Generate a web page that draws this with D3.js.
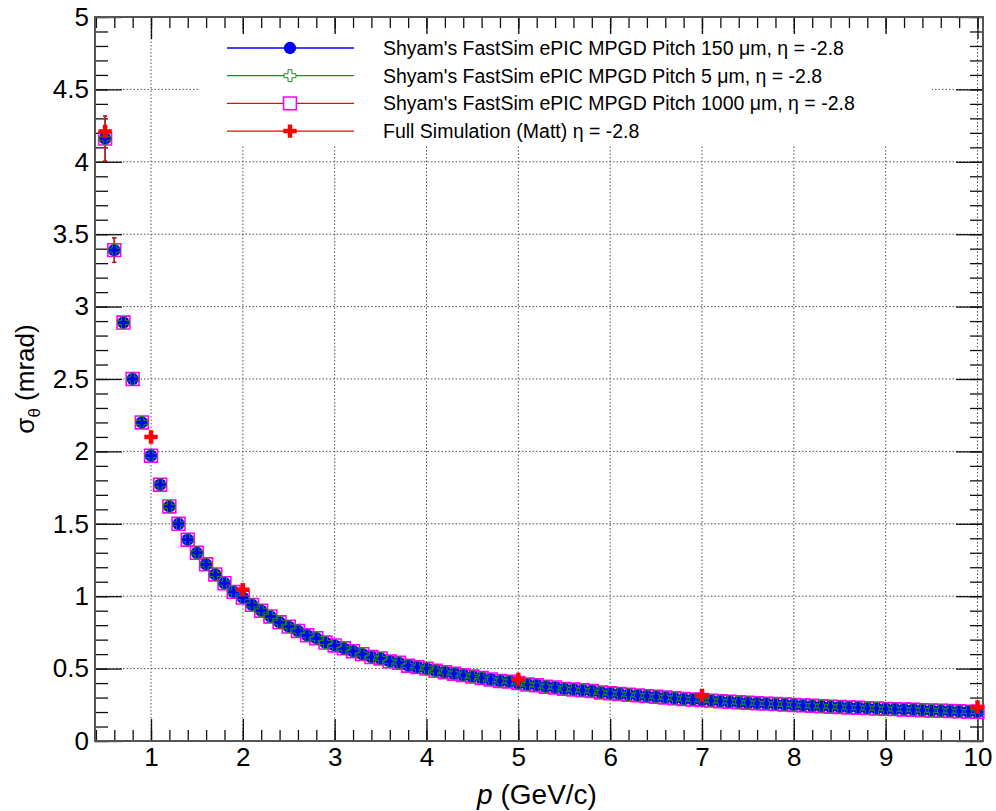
<!DOCTYPE html>
<html>
<head>
<meta charset="utf-8">
<script src="https://cdn.jsdelivr.net/npm/d3@7"></script>
<style>
    body { margin: 0; background: #fff; }
    svg { display: block; font-family: "Liberation Sans", Arial, sans-serif; }
</style>
</head>
<body>
<svg id="chart" width="996" height="811"></svg>
<script>
// Data
const momentum = [
    0.5, 0.6, 0.7, 0.8, 0.9, 1.0, 1.1, 1.2, 1.3, 1.4,
    1.5, 1.6, 1.7, 1.8, 1.9, 2.0, 2.1, 2.2, 2.3, 2.4,
    2.5, 2.6, 2.7, 2.8, 2.9, 3.0, 3.1, 3.2, 3.3, 3.4,
    3.5, 3.6, 3.7, 3.8, 3.9, 4.0, 4.1, 4.2, 4.3, 4.4,
    4.5, 4.6, 4.7, 4.8, 4.9, 5.0, 5.1, 5.2, 5.3, 5.4,
    5.5, 5.6, 5.7, 5.8, 5.9, 6.0, 6.1, 6.2, 6.3, 6.4,
    6.5, 6.6, 6.7, 6.8, 6.9, 7.0, 7.1, 7.2, 7.3, 7.4,
    7.5, 7.6, 7.7, 7.8, 7.9, 8.0, 8.1, 8.2, 8.3, 8.4,
    8.5, 8.6, 8.7, 8.8, 8.9, 9.0, 9.1, 9.2, 9.3, 9.4,
    9.5, 9.6, 9.7, 9.8, 9.9, 10.0
];
const sigma150 = [
    4.16, 3.39, 2.89, 2.50, 2.20, 1.97, 1.77, 1.62, 1.50, 1.39,
    1.30, 1.22, 1.15, 1.09, 1.03, 0.99, 0.94, 0.90, 0.86, 0.82,
    0.79, 0.76, 0.73, 0.71, 0.68, 0.66, 0.64, 0.62, 0.60, 0.58,
    0.57, 0.55, 0.54, 0.52, 0.51, 0.50, 0.485, 0.475, 0.465, 0.455,
    0.445, 0.435, 0.425, 0.415, 0.41, 0.40, 0.39, 0.385, 0.375, 0.37,
    0.36, 0.355, 0.35, 0.345, 0.335, 0.33, 0.325, 0.32, 0.315, 0.31,
    0.305, 0.30, 0.295, 0.29, 0.287, 0.283, 0.279, 0.275, 0.271, 0.268,
    0.264, 0.261, 0.258, 0.255, 0.252, 0.249, 0.246, 0.243, 0.240, 0.237,
    0.235, 0.232, 0.230, 0.227, 0.225, 0.222, 0.220, 0.218, 0.216, 0.213,
    0.211, 0.209, 0.207, 0.205, 0.203, 0.201
];
const sigma5 = [
    4.16, 3.39, 2.89, 2.50, 2.20, 1.97, 1.77, 1.62, 1.50, 1.39,
    1.30, 1.22, 1.15, 1.09, 1.03, 0.99, 0.94, 0.90, 0.86, 0.82,
    0.79, 0.76, 0.73, 0.71, 0.68, 0.66, 0.64, 0.62, 0.60, 0.58,
    0.57, 0.55, 0.54, 0.52, 0.51, 0.50, 0.485, 0.475, 0.465, 0.455,
    0.445, 0.435, 0.425, 0.415, 0.41, 0.40, 0.39, 0.385, 0.375, 0.37,
    0.36, 0.355, 0.35, 0.345, 0.335, 0.33, 0.325, 0.32, 0.315, 0.31,
    0.305, 0.30, 0.295, 0.29, 0.287, 0.283, 0.279, 0.275, 0.271, 0.268,
    0.264, 0.261, 0.258, 0.255, 0.252, 0.249, 0.246, 0.243, 0.240, 0.237,
    0.235, 0.232, 0.230, 0.227, 0.225, 0.222, 0.220, 0.218, 0.216, 0.213,
    0.211, 0.209, 0.207, 0.205, 0.203, 0.201
];
const sigma1000 = [
    4.16, 3.39, 2.89, 2.50, 2.20, 1.97, 1.77, 1.62, 1.50, 1.39,
    1.30, 1.22, 1.15, 1.09, 1.03, 0.99, 0.94, 0.90, 0.86, 0.82,
    0.79, 0.76, 0.73, 0.71, 0.68, 0.66, 0.64, 0.62, 0.60, 0.58,
    0.57, 0.55, 0.54, 0.52, 0.51, 0.50, 0.485, 0.475, 0.465, 0.455,
    0.445, 0.435, 0.425, 0.415, 0.41, 0.40, 0.39, 0.385, 0.375, 0.37,
    0.36, 0.355, 0.35, 0.345, 0.335, 0.33, 0.325, 0.32, 0.315, 0.31,
    0.305, 0.30, 0.295, 0.29, 0.287, 0.283, 0.279, 0.275, 0.271, 0.268,
    0.264, 0.261, 0.258, 0.255, 0.252, 0.249, 0.246, 0.243, 0.240, 0.237,
    0.235, 0.232, 0.230, 0.227, 0.225, 0.222, 0.220, 0.218, 0.216, 0.213,
    0.211, 0.209, 0.207, 0.205, 0.203, 0.201
];
// error on sigma for the fast sim points (same for all pitches)
const sigmaErr = [
    0.155, 0.085, 0.040, 0.025, 0.018, 0.014, 0.012, 0.010, 0.009, 0.008,
    0.007, 0.007, 0.006, 0.006, 0.005, 0.005, 0.005, 0.005, 0.004, 0.004,
    0.004, 0.004, 0.004, 0.004, 0.003, 0.003, 0.003, 0.003, 0.003, 0.003,
    0.003, 0.003, 0.003, 0.003, 0.003, 0.003, 0.003, 0.003, 0.003, 0.003,
    0.003, 0.003, 0.003, 0.003, 0.003, 0.003, 0.003, 0.003, 0.003, 0.003,
    0.003, 0.003, 0.003, 0.003, 0.003, 0.003, 0.003, 0.003, 0.003, 0.003,
    0.003, 0.003, 0.003, 0.003, 0.003, 0.003, 0.003, 0.003, 0.003, 0.003,
    0.003, 0.003, 0.003, 0.003, 0.003, 0.003, 0.003, 0.003, 0.003, 0.003,
    0.003, 0.003, 0.003, 0.003, 0.003, 0.003, 0.003, 0.003, 0.003, 0.003,
    0.003, 0.003, 0.003, 0.003, 0.003, 0.003
];
const momentumMatt = [0.5, 1.0, 2.0, 5.0, 7.0, 10.0];
const sigmaMatt = [4.21, 2.10, 1.045, 0.425, 0.315, 0.235];

const xTicks = [1, 2, 3, 4, 5, 6, 7, 8, 9, 10];
const yTicks = [0, 0.5, 1, 1.5, 2, 2.5, 3, 3.5, 4, 4.5, 5];
const legendLabels = [
    "Shyam's FastSim ePIC MPGD Pitch 150 \u03bcm, \u03b7 = -2.8",
    "Shyam's FastSim ePIC MPGD Pitch 5 \u03bcm, \u03b7 = -2.8",
    "Shyam's FastSim ePIC MPGD Pitch 1000 \u03bcm, \u03b7 = -2.8",
    "Full Simulation (Matt) \u03b7 = -2.8"
];

// Layout
const frame = { left: 95, right: 983, top: 17, bottom: 741 };
const colorBlue = '#0000ff';
const colorGreen = '#1f8a1f';
const colorMagenta = '#ff00ff';
const colorRed = '#ff0000';

const svg = d3.select('#chart');
const x = d3.scaleLinear().domain([0.39, 10.06]).range([frame.left, frame.right]);
const y = d3.scaleLinear().domain([0, 5]).range([frame.bottom, frame.top]);

// markers
const circle = d3.symbol().type(d3.symbolCircle).size(120);
const square = d3.symbol().type(d3.symbolSquare).size(165);
const crossOpen = d3.symbol().type(d3.symbolCross).size(78);
const crossFull = d3.symbol().type(d3.symbolCross).size(100);

const series = [
    { p: momentum, s: sigma150, err: sigmaErr, line: colorBlue, marker: circle, fill: colorBlue, stroke: 'none', sw: 0 },
    { p: momentum, s: sigma5, err: sigmaErr, line: colorGreen, marker: crossOpen, fill: 'none', stroke: colorGreen, sw: 1 },
    { p: momentum, s: sigma1000, err: sigmaErr, line: colorRed, marker: square, fill: 'none', stroke: colorMagenta, sw: 1.6 },
    { p: momentumMatt, s: sigmaMatt, err: sigmaMatt.map(() => 0), line: colorRed, marker: crossFull, fill: colorRed, stroke: 'none', sw: 0 }
];

// Grid
const grid = svg.append('g')
    .attr('stroke', '#555')
    .attr('stroke-width', 1)
    .attr('stroke-dasharray', '1.5,2');
grid.selectAll('.gx').data(xTicks).enter().append('line')
    .attr('x1', d => x(d)).attr('x2', d => x(d))
    .attr('y1', frame.top).attr('y2', frame.bottom);
grid.selectAll('.gy').data(yTicks.slice(1, -1)).enter().append('line')
    .attr('y1', d => y(d)).attr('y2', d => y(d))
    .attr('x1', frame.left).attr('x2', frame.right);

// Axes (ticks pointing inside the frame, ROOT style)
function styleAxis(g) {
    g.select('.domain').remove();
    g.selectAll('line').attr('stroke', '#111').attr('stroke-width', 1.3);
    g.selectAll('text').attr('font-size', 26).attr('fill', '#000')
        .attr('font-family', '"Liberation Sans", Arial, sans-serif');
}
const fmt = d => String(d);
svg.append('g').attr('transform', `translate(0,${frame.bottom})`)
    .call(d3.axisBottom(x).tickValues(x.ticks(50)).tickSize(-11).tickFormat(''))
    .call(styleAxis);
svg.append('g').attr('transform', `translate(0,${frame.bottom})`)
    .call(d3.axisBottom(x).tickValues(xTicks).tickSize(-22).tickPadding(7).tickFormat(fmt))
    .call(styleAxis);
svg.append('g').attr('transform', `translate(0,${frame.top})`)
    .call(d3.axisTop(x).tickValues(x.ticks(50)).tickSize(-11).tickFormat(''))
    .call(styleAxis);
svg.append('g').attr('transform', `translate(0,${frame.top})`)
    .call(d3.axisTop(x).tickValues(xTicks).tickSize(-22).tickFormat(''))
    .call(styleAxis);
svg.append('g').attr('transform', `translate(${frame.left},0)`)
    .call(d3.axisLeft(y).tickValues(y.ticks(50)).tickSize(-13).tickFormat(''))
    .call(styleAxis);
svg.append('g').attr('transform', `translate(${frame.left},0)`)
    .call(d3.axisLeft(y).tickValues(yTicks).tickSize(-27).tickPadding(6).tickFormat(fmt))
    .call(styleAxis);
svg.append('g').attr('transform', `translate(${frame.right},0)`)
    .call(d3.axisRight(y).tickValues(y.ticks(50)).tickSize(-13).tickFormat(''))
    .call(styleAxis);
svg.append('g').attr('transform', `translate(${frame.right},0)`)
    .call(d3.axisRight(y).tickValues(yTicks).tickSize(-27).tickFormat(''))
    .call(styleAxis);

// Frame
svg.append('rect')
    .attr('x', frame.left).attr('y', frame.top)
    .attr('width', frame.right - frame.left).attr('height', frame.bottom - frame.top)
    .attr('fill', 'none').attr('stroke', '#555').attr('stroke-width', 2);

// Error bars
series.forEach(sr => {
    const g = svg.append('g').attr('stroke', sr.line).attr('stroke-width', 1.2);
    sr.s.forEach((v, i) => {
        const e = sr.err[i];
        if (!e) return;
        const px = x(sr.p[i]);
        g.append('line').attr('x1', px).attr('x2', px).attr('y1', y(v - e)).attr('y2', y(v + e));
        g.append('line').attr('x1', px - 2).attr('x2', px + 2).attr('y1', y(v - e)).attr('y2', y(v - e));
        g.append('line').attr('x1', px - 2).attr('x2', px + 2).attr('y1', y(v + e)).attr('y2', y(v + e));
    });
});

// Markers: squares first, then circles, crosses, full-sim on top
[2, 0, 1, 3].forEach(k => {
    const sr = series[k];
    svg.append('g').selectAll('path').data(sr.s).enter().append('path')
        .attr('d', sr.marker)
        .attr('transform', (d, i) => `translate(${x(sr.p[i])},${y(d)})`)
        .attr('fill', sr.fill)
        .attr('stroke', sr.stroke)
        .attr('stroke-width', sr.sw);
});

// Legend
const legend = svg.append('g');
legend.append('rect')
    .attr('x', 199).attr('y', 34).attr('width', 733).attr('height', 111)
    .attr('fill', '#fff');
series.forEach((sr, i) => {
    const ly = 48 + i * 27.7;
    legend.append('line')
        .attr('x1', 227).attr('x2', 354).attr('y1', ly).attr('y2', ly)
        .attr('stroke', sr.line).attr('stroke-width', 1.3);
    legend.append('path')
        .attr('d', sr.marker)
        .attr('transform', `translate(290,${ly})`)
        .attr('fill', sr.fill === 'none' ? '#fff' : sr.fill)
        .attr('stroke', sr.stroke)
        .attr('stroke-width', sr.sw);
    legend.append('text')
        .attr('x', 383).attr('y', ly + 7)
        .attr('font-size', 19.5)
        .text(legendLabels[i]);
});

// Axis titles
const xTitle = svg.append('text')
    .attr('x', 537).attr('y', 804)
    .attr('text-anchor', 'middle').attr('font-size', 28);
xTitle.append('tspan').attr('font-style', 'italic').text('p');
xTitle.append('tspan').text(' (GeV/c)');

const yTitle = svg.append('text')
    .attr('transform', `translate(34,${(frame.top + frame.bottom) / 2}) rotate(-90)`)
    .attr('text-anchor', 'middle').attr('font-size', 26);
yTitle.append('tspan').text('\u03c3');
yTitle.append('tspan').attr('font-size', 17).attr('dy', 6).text('\u03b8');
yTitle.append('tspan').attr('dy', -6).text(' (mrad)');
</script>
</body>
</html>
